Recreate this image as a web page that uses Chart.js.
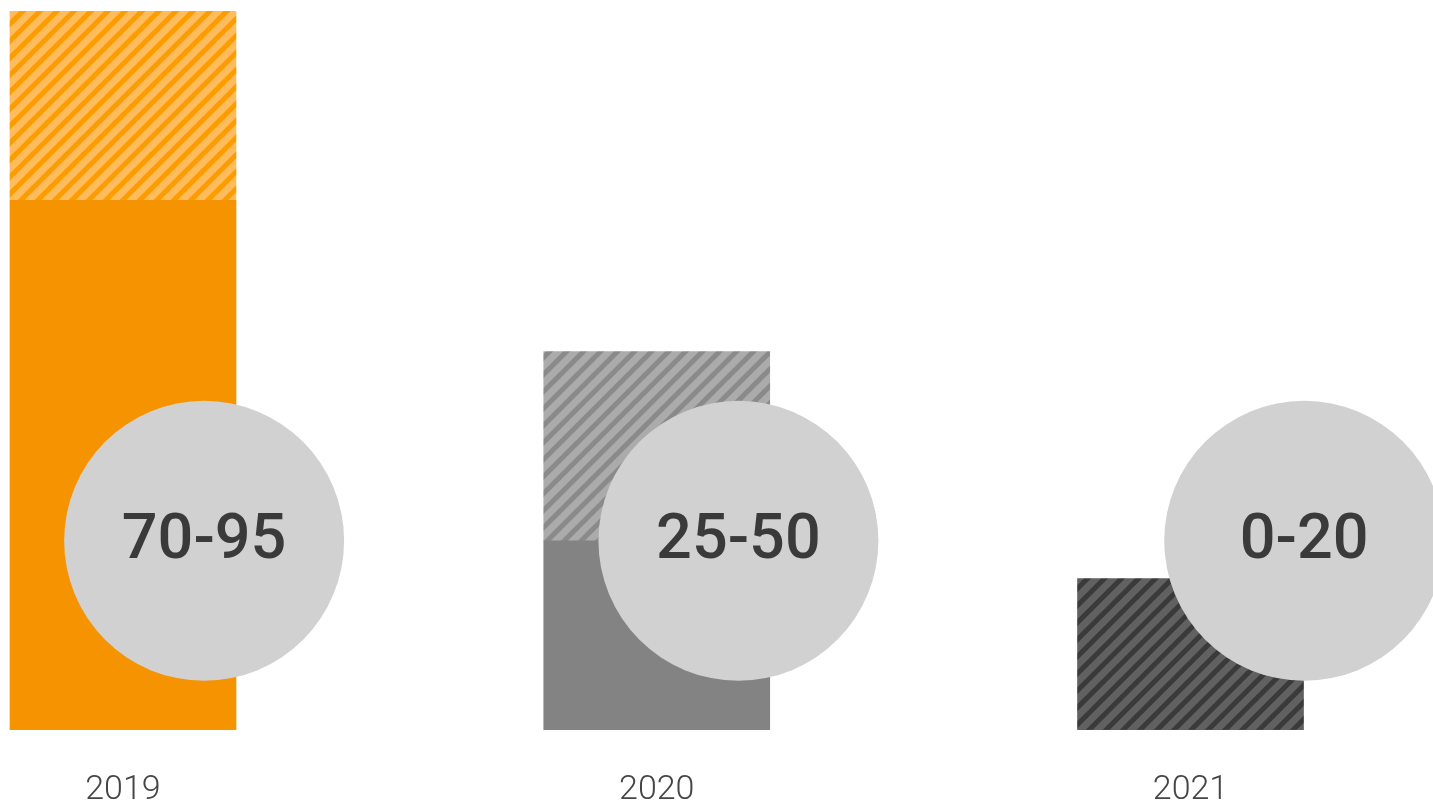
<!DOCTYPE html>
<html>
<head>
<meta charset="utf-8">
<script src="https://cdn.jsdelivr.net/npm/chart.js@4/dist/chart.umd.min.js"></script>
<style>
  html, body { margin: 0; padding: 0; background: #fff; }
  #wrap { width: 1433px; height: 808px; position: relative; }
</style>
</head>
<body>
<div id="wrap"><canvas id="chart"></canvas></div>
<script>
// datos
const years = ['2019', '2020', '2021'];
const lowValues = [70, 25, 0];
const highValues = [95, 50, 20];
const rangeLabels = ['70-95', '25-50', '0-20'];
const circleX = [0.152, 1.153, 2.213];
const circleY = [25, 25, 25];

// colores por año
const solidColors = ['#f59300', '#838383', '#5f5f5f'];
const hatchBase = ['#ffbc5c', '#ababab', '#616161'];
const hatchStripe = ['#fc9c00', '#8a8a8a', '#3a3a3a'];

// relleno rayado (diagonal /)
function stripes(base, stripe) {
    const s = 17;
    const c = document.createElement('canvas');
    c.width = s; c.height = s;
    const g = c.getContext('2d');
    g.fillStyle = base;
    g.fillRect(0, 0, s, s);
    g.strokeStyle = stripe;
    g.lineWidth = 5;
    for (const o of [-s, 0, s]) {
        // líneas prolongadas fuera de la tesela para que no queden cortes
        g.beginPath();
        g.moveTo(o - s, 2 * s);
        g.lineTo(o + 2 * s, -s);
        g.stroke();
    }
    return g.createPattern(c, 'repeat');
}

// texto dentro de los círculos
const circleLabels = {
    id: 'circleLabels',
    afterDatasetsDraw(chart) {
        const meta = chart.getDatasetMeta(0);
        const ctx = chart.ctx;
        ctx.save();
        ctx.font = '500 63px Roboto';
        ctx.fillStyle = '#3a3a3a';
        ctx.textAlign = 'center';
        ctx.textBaseline = 'alphabetic';
        meta.data.forEach((pt, i) => {
            ctx.fillText(rangeLabels[i], pt.x, pt.y + 17);
        });
        ctx.restore();
    }
};

const ctx = document.getElementById('chart').getContext('2d');
new Chart(ctx, {
    data: {
        datasets: [
            {
                type: 'bubble',
                data: circleX.map((x, i) => ({ x: x, y: circleY[i] })),
                backgroundColor: '#d1d1d1',
                borderWidth: 0,
                radius: 140,
                hoverRadius: 0,
                order: 0,
                clip: false
            },
            {
                type: 'bar',
                data: years.map((_, i) => ({ x: i, y: [0, lowValues[i]] })),
                backgroundColor: solidColors,
                grouped: false,
                barThickness: 226,
                borderWidth: 0,
                order: 1
            },
            {
                type: 'bar',
                data: years.map((_, i) => ({ x: i, y: [lowValues[i], highValues[i]] })),
                backgroundColor: years.map((_, i) => stripes(hatchBase[i], hatchStripe[i])),
                grouped: false,
                barThickness: 226,
                borderWidth: 0,
                order: 1
            }
        ]
    },
    options: {
        responsive: true,
        maintainAspectRatio: false,
        animation: false,
        layout: { autoPadding: false, padding: { top: 11, left: 0, right: 0, bottom: 0 } },
        plugins: {
            legend: { display: false },
            tooltip: { enabled: false }
        },
        scales: {
            x: {
                type: 'linear',
                offset: false,
                min: -0.2304,
                max: 2.4543,
                grid: { display: false, drawTicks: false },
                border: { display: false },
                afterBuildTicks: (axis) => {
                    axis.ticks = years.map((_, i) => ({ value: i }));
                },
                afterFit: (axis) => {
                    axis.paddingLeft = 0;
                    axis.paddingRight = 0;
                    axis.height = 78;
                },
                ticks: {
                    padding: 42,
                    color: '#454545',
                    font: { family: 'Roboto', size: 34, weight: '300', lineHeight: 1.085 },
                    maxRotation: 0,
                    autoSkip: false,
                    callback: (value) => years[value] ?? ''
                }
            },
            y: {
                display: false,
                min: 0,
                max: 95
            }
        }
    },
    plugins: [circleLabels]
});
</script>
</body>
</html>
